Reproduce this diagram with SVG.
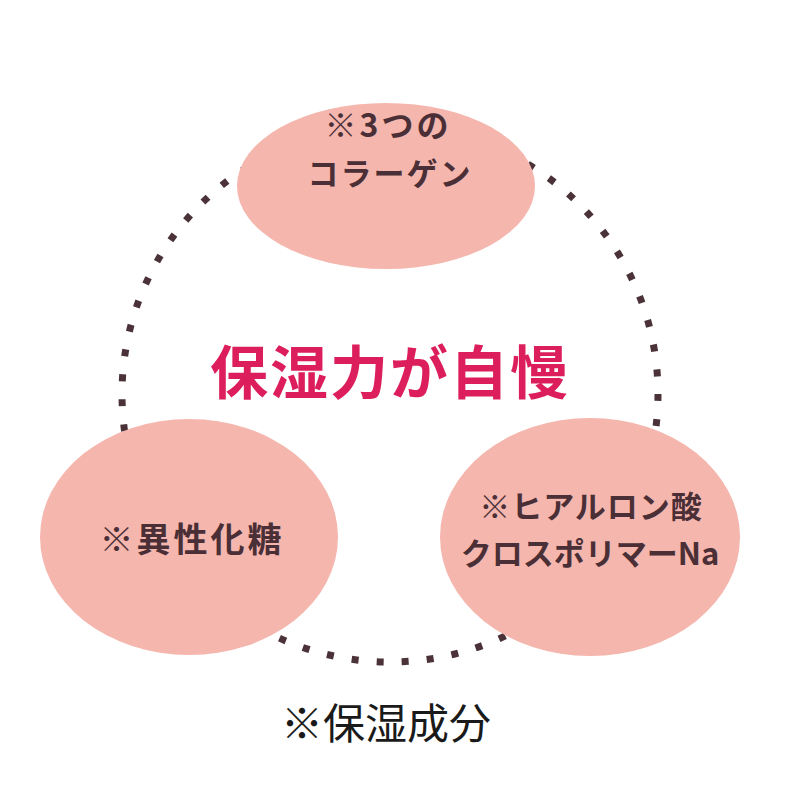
<svg xmlns="http://www.w3.org/2000/svg" width="800" height="800" viewBox="0 0 800 800">
  <style>
    .node { fill: #f5b6ae; }
    .lbl { font-family: "Noto Sans CJK JP", "Noto Sans", sans-serif; font-weight: bold; fill: #4b2f36; text-anchor: middle; }
    .title { font-family: "Noto Sans CJK JP", "Noto Sans", sans-serif; font-weight: bold; fill: #dc1f5c; text-anchor: middle; font-size: 58px; letter-spacing: 2px; }
    .note { font-family: "Noto Sans CJK JP", "Noto Sans", sans-serif; font-weight: normal; fill: #1a1a1a; text-anchor: middle; font-size: 42px; }
    .dots { fill: none; stroke: #4a3238; stroke-width: 7; stroke-dasharray: 7 18.13; }
  </style>
  <rect width="800" height="800" fill="#ffffff"/>
  <g id="connectors">
    <circle class="dots" cx="390" cy="394" r="268"/>
  </g>
  <g id="node-collagen">
    <ellipse class="node" cx="386" cy="186" rx="149" ry="83"/>
    <text class="lbl" x="388" y="137" font-size="32" letter-spacing="3">※3つの</text>
    <text class="lbl" x="390" y="185" font-size="31" letter-spacing="2">コラーゲン</text>
  </g>
  <g id="node-sugar">
    <ellipse class="node" cx="189" cy="537" rx="149" ry="118"/>
    <text class="lbl" x="192" y="552" font-size="34" letter-spacing="3">※異性化糖</text>
  </g>
  <g id="node-hyaluronic">
    <ellipse class="node" cx="590" cy="537" rx="150" ry="119"/>
    <text class="lbl" x="591" y="518" font-size="31" letter-spacing="1">※ヒアルロン酸</text>
    <text class="lbl" x="590" y="565" font-size="31" letter-spacing="0">クロスポリマーNa</text>
  </g>
  <g id="title">
    <text class="title" x="390" y="394">保湿力が自慢</text>
  </g>
  <g id="footnote">
    <text class="note" x="386" y="739">※保湿成分</text>
  </g>
</svg>
